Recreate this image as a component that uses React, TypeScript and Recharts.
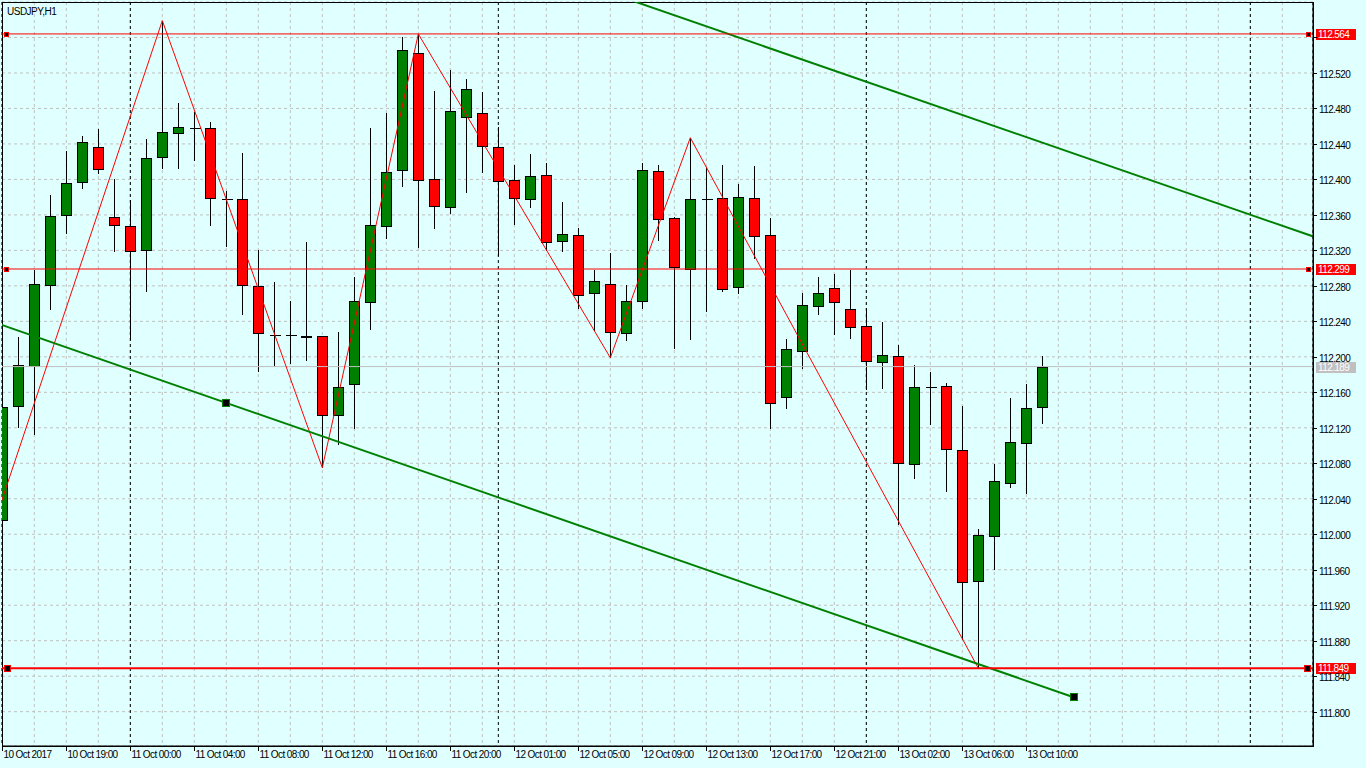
import React from 'react';
import {
  ComposedChart, Bar, Line, XAxis, YAxis, CartesianGrid,
  ReferenceLine, ReferenceDot, ReferenceArea,
} from 'recharts';

const symbol = 'USDJPY,H1';

// hourly candles, index 0 = 10 Oct 15:00
const opens = [
  112.016, 112.145, 112.190, 112.281, 112.360, 112.397, 112.437, 112.358, 112.348, 112.320,
  112.425, 112.452, 112.458, 112.458, 112.378, 112.378, 112.280, 112.225, 112.225, 112.223,
  112.223, 112.134, 112.169, 112.262, 112.348, 112.411, 112.543, 112.400, 112.369, 112.470,
  112.475, 112.437, 112.399, 112.378, 112.405, 112.331, 112.337, 112.272, 112.282, 112.227,
  112.263, 112.410, 112.357, 112.299, 112.378, 112.379, 112.279, 112.379, 112.337, 112.155,
  112.207, 112.257, 112.278, 112.254, 112.235, 112.194, 112.201, 112.079, 112.166, 112.167,
  112.095, 111.947, 111.998, 112.058, 112.103, 112.143,
];
const highs = [
  112.146, 112.222, 112.298, 112.382, 112.432, 112.449, 112.457, 112.400, 112.377, 112.446,
  112.579, 112.486, 112.476, 112.465, 112.387, 112.430, 112.320, 112.284, 112.263, 112.329,
  112.224, 112.228, 112.290, 112.458, 112.475, 112.560, 112.564, 112.500, 112.523, 112.513,
  112.499, 112.459, 112.416, 112.429, 112.419, 112.375, 112.345, 112.298, 112.317, 112.281,
  112.419, 112.416, 112.358, 112.447, 112.413, 112.416, 112.395, 112.415, 112.357, 112.220,
  112.272, 112.290, 112.293, 112.298, 112.255, 112.239, 112.213, 112.191, 112.183, 112.171,
  112.145, 112.006, 112.079, 112.154, 112.169, 112.201,
];
const lows = [
  112.014, 112.120, 112.112, 112.253, 112.338, 112.389, 112.406, 112.318, 112.219, 112.273,
  112.412, 112.412, 112.421, 112.348, 112.324, 112.247, 112.183, 112.189, 112.192, 112.195,
  112.075, 112.101, 112.119, 112.230, 112.333, 112.392, 112.323, 112.344, 112.361, 112.385,
  112.407, 112.314, 112.349, 112.368, 112.319, 112.318, 112.254, 112.229, 112.199, 112.218,
  112.254, 112.331, 112.209, 112.219, 112.251, 112.273, 112.271, 112.310, 112.119, 112.141,
  112.186, 112.247, 112.225, 112.220, 112.163, 112.164, 112.010, 112.062, 112.123, 112.048,
  111.881, 111.849, 111.960, 112.052, 112.045, 112.124,
];
const closes = [
  112.143, 112.191, 112.282, 112.359, 112.396, 112.442, 112.412, 112.349, 112.319, 112.424,
  112.453, 112.459, 112.458, 112.379, 112.378, 112.281, 112.227, 112.225, 112.225, 112.222,
  112.134, 112.166, 112.263, 112.349, 112.408, 112.546, 112.399, 112.370, 112.477, 112.502,
  112.438, 112.398, 112.379, 112.404, 112.330, 112.339, 112.270, 112.286, 112.228, 112.263,
  112.411, 112.355, 112.301, 112.378, 112.378, 112.277, 112.380, 112.336, 112.148, 112.209,
  112.258, 112.272, 112.262, 112.234, 112.195, 112.202, 112.080, 112.166, 112.166, 112.096,
  111.946, 111.999, 112.060, 112.104, 112.142, 112.189,
];

// one label every 4 bars
const timeLabels = [
  '10 Oct 2017', '10 Oct 19:00', '11 Oct 00:00', '11 Oct 04:00', '11 Oct 08:00',
  '11 Oct 12:00', '11 Oct 16:00', '11 Oct 20:00', '12 Oct 01:00', '12 Oct 05:00',
  '12 Oct 09:00', '12 Oct 13:00', '12 Oct 17:00', '12 Oct 21:00', '13 Oct 02:00',
  '13 Oct 06:00', '13 Oct 10:00',
];
const priceTicks = [
  111.8, 111.84, 111.88, 111.92, 111.96, 112.0, 112.04, 112.08, 112.12, 112.16,
  112.2, 112.24, 112.28, 112.32, 112.36, 112.4, 112.44, 112.48, 112.52, 112.56,
];

const zigzagIdx = [-1, 10, 20, 26, 38, 43, 61];
const zigzagPrice = [111.986, 112.579, 112.075, 112.564, 112.199, 112.447, 111.849];

const channelLowIdx = [-1, 67];
const channelLowPrice = [112.242, 111.816];
const channelHighIdx = [30, 83];
const channelHighPrice = [112.660, 112.329];
const anchorIdx = [14, 67];
const anchorPrice = [112.148, 111.816];

const levels = [112.564, 112.299, 111.849];
const levelWidths = [1, 1, 2];
const bidPrice = 112.189;
const daySeparators = [8, 31, 54, 78];

const X_MIN = -0.02;
const X_MAX = 81.9175;
const Y_MIN = 111.7613;
const Y_MAX = 112.6;

const BG = '#e0ffff';
const FONT = '"Liberation Sans", Arial, sans-serif';

const candles = opens.map((o, i) => ({ idx: i, open: o, high: highs[i], low: lows[i], close: closes[i] }));
const zigzag = zigzagIdx.map((idx, i) => ({ idx, price: zigzagPrice[i] }));
const channelLow = channelLowIdx.map((idx, i) => ({ idx, price: channelLowPrice[i] }));
const channelHigh = channelHighIdx.map((idx, i) => ({ idx, price: channelHighPrice[i] }));
const bidLine = [{ idx: -1, price: bidPrice }, { idx: 83, price: bidPrice }];
const gridX = Array.from({ length: 41 }, (_, i) => i * 2);
const labelTicks = timeLabels.map((_, i) => i * 4);

const Candle = (props: any) => {
  const { x, y, width, height, payload } = props;
  if (x == null || y == null) return null;
  const { open, close, high, low } = payload;
  const top = Math.min(y, y + height);
  const h = Math.abs(height);
  const toY = (v: number) => top + ((high - v) / (high - low)) * h;
  const cx = Math.round(x + width / 2) + 0.5;
  const yHigh = Math.round(top);
  const yLow = Math.round(top + h);
  const bTop = Math.round(toY(Math.max(open, close))) + 0.5;
  const bBot = Math.round(toY(Math.min(open, close))) + 0.5;
  const fill = close > open ? '#008000' : '#ff0000';
  return (
    <g shapeRendering="crispEdges">
      <line x1={cx} y1={yHigh} x2={cx} y2={yLow} stroke="#000" />
      {open === close ? (
        <line x1={cx - 5} y1={bTop} x2={cx + 6} y2={bTop} stroke="#000" />
      ) : (
        <rect x={cx - 5} y={bTop} width={10} height={Math.max(1, bBot - bTop)} fill={fill} stroke="#000" />
      )}
    </g>
  );
};

const TimeTick = (props: any) => {
  const { x, y, payload } = props;
  const label = timeLabels[Math.round(payload.value / 4)];
  const px = Math.round(x) + 0.5;
  return (
    <g>
      <line x1={px} y1={y} x2={px} y2={y + 5} stroke="#000" shapeRendering="crispEdges" />
      <text x={px + 1} y={y + 12} fontSize={10} fontFamily={FONT} letterSpacing={-0.6} fill="#000">{label}</text>
    </g>
  );
};

// the 112.560 label sits under the 112.564 price box, as in the terminal
const PriceTick = (props: any) => {
  const { x, y, payload } = props;
  const py = Math.round(y) + 0.5;
  const v = Number(payload.value);
  const covered = levels.some((lv) => Math.abs(lv - v) < 0.008);
  return (
    <g>
      <line x1={x} y1={py} x2={x + 4} y2={py} stroke="#000" shapeRendering="crispEdges" />
      {!covered && (
        <text x={x + 6} y={py + 4} fontSize={10} fontFamily={FONT} letterSpacing={-0.6} fill="#000">
          {v.toFixed(3)}
        </text>
      )}
    </g>
  );
};

const priceBox = (price: number, bg: string, markerSize: number) => (props: any) => {
  const { viewBox } = props;
  if (!viewBox) return null;
  const left = viewBox.x;
  const right = viewBox.x + viewBox.width;
  const yy = Math.round(viewBox.y);
  const half = Math.floor(markerSize / 2);
  return (
    <g shapeRendering="crispEdges">
      {markerSize > 0 && (
        <>
          <rect x={left + 2.5} y={yy - half + 0.5} width={markerSize} height={markerSize} fill="#000" stroke="#ff0000" />
          <rect x={right - markerSize - 2.5} y={yy - half + 0.5} width={markerSize} height={markerSize} fill="#000" stroke="#ff0000" />
        </>
      )}
      <rect x={right + 3} y={yy - 5} width={40} height={11} fill={bg} />
      <text x={right + 5} y={yy + 4} fontSize={10} fontFamily={FONT} letterSpacing={-0.6} fill="#fff">
        {price.toFixed(3)}
      </text>
    </g>
  );
};

const anchorMarker = (props: any) => (
  <rect x={Math.round(props.cx) - 3.5} y={Math.round(props.cy) - 3.5} width={7} height={7}
    fill="#000" stroke="#008000" shapeRendering="crispEdges" />
);

export default function App() {
  return (
    <div style={{ width: 1366, height: 768, background: BG, position: 'relative' }}>
      <style>{`body{margin:0;background:${BG};}`}</style>
      <ComposedChart width={1366} height={768} data={candles} margin={{ top: 2, right: 0, bottom: 0, left: 2 }}>
        <XAxis xAxisId="grid" type="number" dataKey="idx" domain={[X_MIN, X_MAX]} allowDataOverflow
          ticks={gridX} interval={0} hide />
        <XAxis xAxisId="sep" type="number" dataKey="idx" domain={[X_MIN, X_MAX]} allowDataOverflow
          ticks={daySeparators} interval={0} hide />
        <CartesianGrid vertical={false} stroke="#c0c0c0" strokeDasharray="3 3" />
        <CartesianGrid xAxisId="grid" horizontal={false} stroke="#c0c0c0" strokeDasharray="3 3" />
        <CartesianGrid xAxisId="sep" horizontal={false} stroke="#000" strokeDasharray="3 3" />
        <XAxis type="number" dataKey="idx" domain={[X_MIN, X_MAX]} allowDataOverflow ticks={labelTicks}
          interval={0} tickSize={0} tickMargin={0} height={22} stroke="#000" tick={<TimeTick />} />
        <YAxis orientation="right" domain={[Y_MIN, Y_MAX]} allowDataOverflow ticks={priceTicks}
          interval={0} tickSize={0} tickMargin={0} width={53} stroke="#000" tick={<PriceTick />} />
        <Line data={bidLine} dataKey="price" type="linear" stroke="#c0c0c0" strokeWidth={1}
          dot={false} activeDot={false} isAnimationActive={false} />
        <Bar dataKey={(d: any) => [d.low, d.high]} barSize={11} shape={<Candle />} isAnimationActive={false} />
        <Line data={zigzag} dataKey="price" type="linear" stroke="#ff0000" strokeWidth={1}
          dot={false} activeDot={false} isAnimationActive={false} />
        <Line data={channelLow} dataKey="price" type="linear" stroke="#008000" strokeWidth={2}
          dot={false} activeDot={false} isAnimationActive={false} />
        <Line data={channelHigh} dataKey="price" type="linear" stroke="#008000" strokeWidth={2}
          dot={false} activeDot={false} isAnimationActive={false} />
        {anchorIdx.map((ax, i) => (
          <ReferenceDot key={'a' + ax} x={ax} y={anchorPrice[i]} shape={anchorMarker} ifOverflow="visible" />
        ))}
        <ReferenceLine y={bidPrice} stroke="none" label={priceBox(bidPrice, '#c0c0c0', 0)} />
        {levels.map((lv, i) => (
          <ReferenceLine key={'l' + lv} y={lv} stroke="#ff0000" strokeWidth={levelWidths[i]}
            label={priceBox(lv, '#ff0000', levelWidths[i] > 1 ? 6 : 4)} />
        ))}
        <ReferenceArea x1={X_MIN} x2={X_MAX} y1={Y_MIN} y2={Y_MAX} fill="none" stroke="#000"
          fillOpacity={0} strokeOpacity={1} shapeRendering="crispEdges" />
        <text x={7} y={15} fontSize={10} fontFamily={FONT} letterSpacing={-0.5} fill="#000">{symbol}</text>
      </ComposedChart>
    </div>
  );
}
